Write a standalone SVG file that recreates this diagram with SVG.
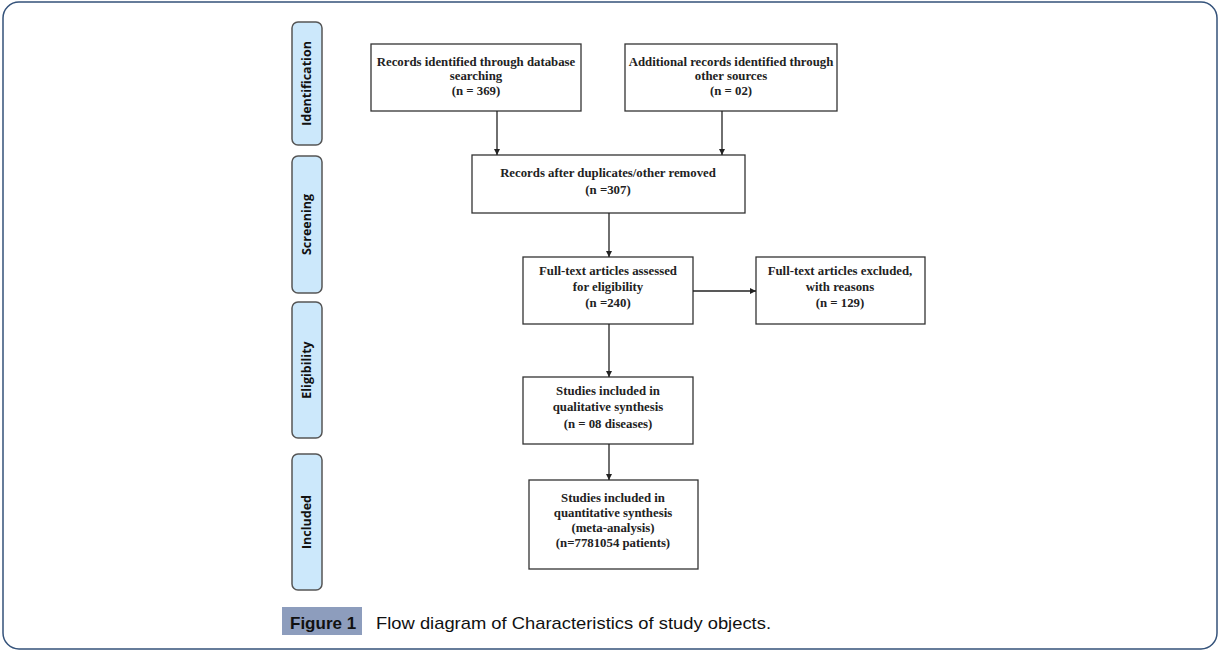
<svg xmlns="http://www.w3.org/2000/svg" width="1225" height="655" viewBox="0 0 1225 655">
<style>
.frame{fill:#fff;stroke:#34527a;stroke-width:1.5}
.side{fill:#cce8fb;stroke:#555;stroke-width:1.5}
.sidet{font-family:"Open Sans","Liberation Sans",sans-serif;font-weight:bold;font-size:12.5px;fill:#111;text-anchor:middle}
.box{fill:#fff;stroke:#333;stroke-width:1.3}
.bt{font-family:"Liberation Serif",serif;font-weight:bold;font-size:12.8px;fill:#222;text-anchor:middle}
.conn{stroke:#222;stroke-width:1.3;fill:none;marker-end:url(#ah)}
.cap{font-family:"Liberation Sans",sans-serif;font-size:17px;fill:#111}
</style>
<defs>
<marker id="ah" viewBox="0 0 10 10" refX="10" refY="5" markerWidth="6" markerHeight="6" orient="auto" markerUnits="userSpaceOnUse">
<path d="M0,0 L10,5 L0,10 z" fill="#222"/>
</marker>
</defs>
<rect class="frame" x="3" y="2" width="1214" height="647" rx="16"/>
<g id="lane-identification">
<rect class="side" x="292" y="22" width="30" height="123" rx="6"/>
<text class="sidet" transform="translate(311,83.5) rotate(-90)">Identification</text>
</g>
<g id="lane-screening">
<rect class="side" x="292" y="156" width="30" height="137" rx="6"/>
<text class="sidet" transform="translate(311,224.5) rotate(-90)">Screening</text>
</g>
<g id="lane-eligibility">
<rect class="side" x="292" y="302" width="30" height="136" rx="6"/>
<text class="sidet" transform="translate(311,370) rotate(-90)">Eligibility</text>
</g>
<g id="lane-included">
<rect class="side" x="292" y="454" width="30" height="136" rx="6"/>
<text class="sidet" transform="translate(311,522) rotate(-90)">Included</text>
</g>
<g id="n1">
<rect class="box" x="371" y="44" width="210" height="67"/>
<text class="bt" x="476" y="66">Records identified through database</text>
<text class="bt" x="476" y="80">searching</text>
<text class="bt" x="476" y="95">(n = 369)</text>
</g>
<g id="n2">
<rect class="box" x="625" y="44" width="212" height="67"/>
<text class="bt" x="731" y="66">Additional records identified through</text>
<text class="bt" x="731" y="80">other sources</text>
<text class="bt" x="731" y="95">(n = 02)</text>
</g>
<g id="n3">
<rect class="box" x="472" y="155" width="273" height="58"/>
<text class="bt" x="608" y="177">Records after duplicates/other removed</text>
<text class="bt" x="608" y="194">(n =307)</text>
</g>
<g id="n4">
<rect class="box" x="523" y="257" width="170" height="67"/>
<text class="bt" x="608" y="275">Full-text articles assessed</text>
<text class="bt" x="608" y="291">for eligibility</text>
<text class="bt" x="608" y="307">(n =240)</text>
</g>
<g id="n5">
<rect class="box" x="756" y="257" width="169" height="67"/>
<text class="bt" x="840" y="275">Full-text articles excluded,</text>
<text class="bt" x="840" y="291">with reasons</text>
<text class="bt" x="840" y="307">(n = 129)</text>
</g>
<g id="n6">
<rect class="box" x="523" y="377" width="170" height="67"/>
<text class="bt" x="608" y="395">Studies included in</text>
<text class="bt" x="608" y="411">qualitative synthesis</text>
<text class="bt" x="608" y="428">(n = 08 diseases)</text>
</g>
<g id="n7">
<rect class="box" x="529" y="480" width="169" height="89"/>
<text class="bt" x="613" y="502">Studies included in</text>
<text class="bt" x="613" y="517">quantitative synthesis</text>
<text class="bt" x="613" y="532">(meta-analysis)</text>
<text class="bt" x="613" y="547">(n=7781054 patients)</text>
</g>
<g id="connectors">
<line class="conn" x1="497" y1="111" x2="497" y2="155"/>
<line class="conn" x1="722" y1="111" x2="722" y2="155"/>
<line class="conn" x1="609" y1="213" x2="609" y2="257"/>
<line class="conn" x1="693" y1="291" x2="756" y2="291"/>
<line class="conn" x1="609" y1="324" x2="609" y2="377"/>
<line class="conn" x1="609" y1="444" x2="609" y2="480"/>
</g>
<g id="caption">
<rect x="282" y="607" width="80" height="28" fill="#8d9dbd"/>
<text class="cap" x="290" y="629" font-weight="bold">Figure 1</text>
<text class="cap" x="376" y="629" textLength="395" lengthAdjust="spacingAndGlyphs">Flow diagram of Characteristics of study objects.</text>
</g>
</svg>
